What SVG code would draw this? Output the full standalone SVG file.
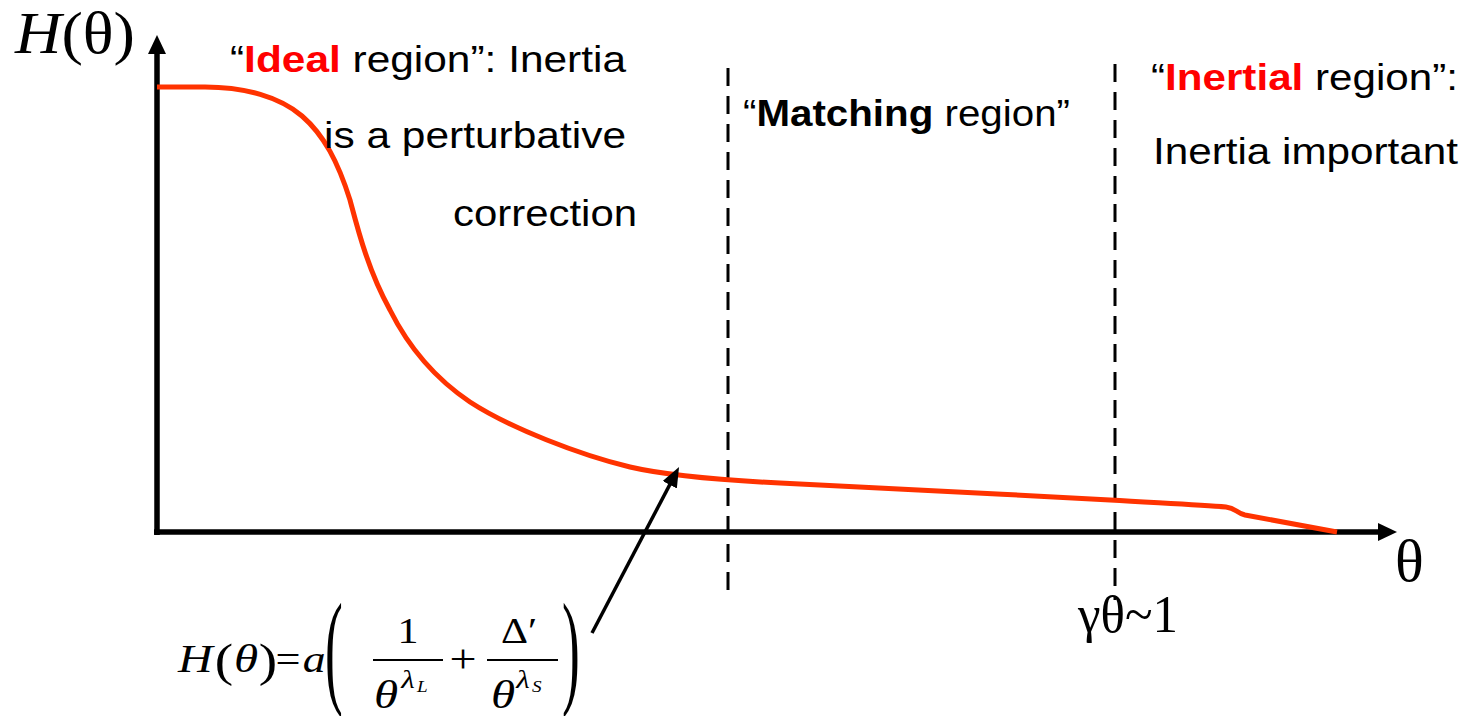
<svg xmlns="http://www.w3.org/2000/svg" width="1468" height="716" viewBox="0 0 1468 716">
<style>
.lbl{font-family:"Liberation Sans",Arial,sans-serif;font-size:36px;fill:#000}
.b{font-weight:bold}
.red{fill:#ff0000;font-weight:bold}
.ser{font-family:"Liberation Serif","Times New Roman",serif;fill:#000}
.it{font-style:italic}
.axis{stroke:#000;stroke-width:5.5;fill:none}
.dash{stroke:#000;stroke-width:3;stroke-dasharray:18 10;fill:none}
.curve{stroke:#ff3300;stroke-width:5;fill:none;stroke-linejoin:round}
.conn{stroke:#000;stroke-width:3.5;fill:none}
.bar{stroke:#000;stroke-width:1.8}
</style>
<defs>
<marker id="ah" viewBox="0 0 20 16" refX="10" refY="8" markerWidth="20" markerHeight="16" markerUnits="userSpaceOnUse" orient="auto">
<path d="M0,0 L20,8 L0,16 z" fill="#000"/>
</marker>
</defs>
<rect width="1468" height="716" fill="#fff"/>

<g id="axes">
<line class="axis" x1="157" y1="535" x2="157" y2="50"/>
<polygon points="157,35 148,54 166,54" fill="#000"/>
<line class="axis" x1="154" y1="532" x2="1382" y2="532"/>
<polygon points="1397,532 1378,523 1378,541" fill="#000"/>
<text class="ser it" x="15" y="53" font-size="60" textLength="120" lengthAdjust="spacingAndGlyphs">H<tspan font-style="normal">(θ)</tspan></text>
<text class="ser" x="1395" y="581" font-size="60">θ</text>
</g>

<g id="boundaries">
<line class="dash" x1="728" y1="68" x2="728" y2="590"/>
<line class="dash" x1="1115" y1="64" x2="1115" y2="600"/>
<text class="ser" x="1078" y="632" font-size="52" textLength="100" lengthAdjust="spacingAndGlyphs">γθ~1</text>
</g>

<g id="curve">
<path class="curve" d="M157,87 L205,87 C245,87 280,97 302,116 C324,135 338,162 350,200 C358,230 368,270 390,310 C405,340 430,375 470,402 C510,428 580,455 630,467 C660,474 720,480 780,483 C900,489 1000,494 1110,500 C1160,503 1200,505 1226,507 C1236,508 1236,513 1245,515 L1337,532"/>
</g>

<g id="ideal-label">
<text class="lbl" x="230" y="72" textLength="396" lengthAdjust="spacingAndGlyphs">“<tspan class="red">Ideal</tspan> region”: Inertia</text>
<text class="lbl" x="324" y="148" textLength="302" lengthAdjust="spacingAndGlyphs">is a perturbative</text>
<text class="lbl" x="453" y="226" textLength="184" lengthAdjust="spacingAndGlyphs">correction</text>
</g>

<g id="matching-label">
<text class="lbl" x="743" y="126" textLength="327" lengthAdjust="spacingAndGlyphs">“<tspan class="b">Matching</tspan> region”</text>
</g>

<g id="inertial-label">
<text class="lbl" x="1151" y="90" textLength="307" lengthAdjust="spacingAndGlyphs">“<tspan class="red">Inertial</tspan> region”:</text>
<text class="lbl" x="1153" y="164" textLength="305" lengthAdjust="spacingAndGlyphs">Inertia important</text>
</g>

<g id="formula" class="ser">
<g transform="scale(1.2,1)">
<text class="it" x="148.3" y="672" font-size="40">H</text>
<text x="186.7" y="676" font-size="46" text-anchor="middle">(</text>
<text class="it" x="205" y="672" font-size="41" text-anchor="middle">θ</text>
<text x="223.3" y="676" font-size="46" text-anchor="middle">)</text>
<text x="240" y="672" font-size="37" text-anchor="middle">=</text>
<text class="it" x="261.7" y="672" font-size="38" text-anchor="middle">a</text>
<text x="340" y="643" font-size="35" text-anchor="middle">1</text>
<text class="it" x="321.7" y="708" font-size="41" text-anchor="middle">θ</text>
<text class="it" x="340" y="688" font-size="26" text-anchor="middle">λ</text>
<text class="it" x="347.5" y="692" font-size="16">L</text>
<text x="385.8" y="672" font-size="40" text-anchor="middle">+</text>
<text x="432.5" y="643" font-size="35" text-anchor="middle">Δ′</text>
<text class="it" x="419.2" y="708" font-size="41" text-anchor="middle">θ</text>
<text class="it" x="435.8" y="688" font-size="26" text-anchor="middle">λ</text>
<text class="it" x="443.3" y="692" font-size="16">S</text>
</g>
<text transform="translate(334,691) scale(0.42,1)" font-size="127" text-anchor="middle">(</text>
<text transform="translate(571,691) scale(0.42,1)" font-size="127" text-anchor="middle">)</text>
<line class="bar" x1="373" y1="660" x2="443" y2="660"/>
<line class="bar" x1="487" y1="660" x2="558" y2="660"/>
</g>

<g id="connectors">
<line class="conn" x1="592" y1="633" x2="674.4" y2="475.9" marker-end="url(#ah)"/>
</g>
</svg>
